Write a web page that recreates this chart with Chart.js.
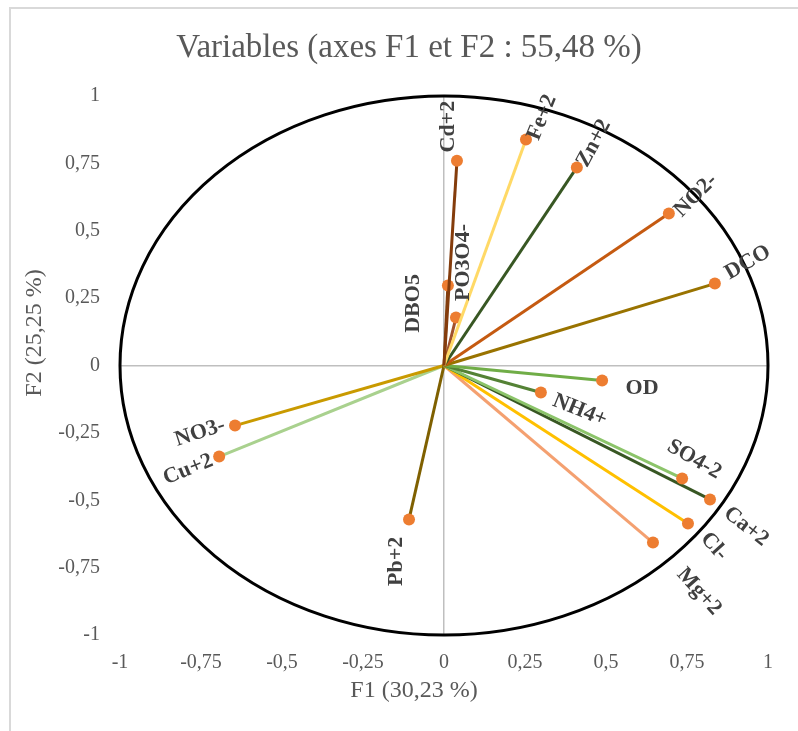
<!DOCTYPE html>
<html>
<head>
<meta charset="utf-8">
<script src="https://cdn.jsdelivr.net/npm/chart.js@4/dist/chart.umd.min.js"></script>
<style>
html,body{margin:0;padding:0;background:#fff;}
#wrap{width:798px;height:731px;position:relative;}
</style>
</head>
<body>
<div id="wrap"><canvas id="c" width="798" height="731"></canvas></div>
<script>
// ---- data ----
const variables = ["Cd+2","Fe+2","Zn+2","NO2-","DCO","DBO5","PO3O4-","OD","NH4+","SO4-2","Ca+2","Cl-","Mg+2","Pb+2","NO3-","Cu+2"];
const f1Values = [0.040, 0.253, 0.410, 0.694, 0.836, 0.012, 0.037, 0.488, 0.299, 0.735, 0.821, 0.753, 0.645, -0.108, -0.645, -0.694];
const f2Values = [0.760, 0.839, 0.735, 0.564, 0.304, 0.297, 0.178, -0.056, -0.100, -0.419, -0.497, -0.586, -0.657, -0.571, -0.223, -0.338];
const tickValues = [-1, -0.75, -0.5, -0.25, 0, 0.25, 0.5, 0.75, 1];

// ---- styles ----
const lineColors = ["#843C0C","#FFD966","#385723","#C55A11","#997300","#7F3F10","#A0522D","#70AD47","#548235","#8CC46A","#385723","#FFC000","#F4A070","#7F6000","#C99A00","#A9D18E"];
// label placement: offset from point (px) and rotation (deg)
const labelPos = {
  "Cd+2":[-9,-34,-90], "Fe+2":[16,-22,-68], "Zn+2":[17,-24,-62], "NO2-":[27,-18,-45],
  "DCO":[33,-21,-30], "DBO5":[-35,18,-90], "PO3O4-":[7,-55,-90], "OD":[40,8,0],
  "NH4+":[39,18,22], "SO4-2":[12,-19,30], "Ca+2":[36,27,38], "Cl-":[26,23,48],
  "Mg+2":[46,49,48], "Pb+2":[-13,42,-90], "NO3-":[-35,7,-18], "Cu+2":[-31,13,-22]
};

const fmt = v => String(v).replace('.', ',');
const serif = '"Liberation Serif", "Times New Roman", serif';

const datasets = variables.map((name, i) => ({
  label: name,
  data: [{x:0, y:0}, {x:f1Values[i], y:f2Values[i]}],
  showLine: true,
  borderColor: lineColors[i],
  borderWidth: 3,
  pointRadius: [0, 6],
  pointHoverRadius: [0, 6],
  pointBackgroundColor: "#ED7D31",
  pointBorderColor: "#ED7D31",
  pointBorderWidth: 0
}));

const decor = {
  id: 'decor',
  beforeDraw(chart) {
    const ctx = chart.ctx;
    ctx.save();
    ctx.fillStyle = '#fff';
    ctx.fillRect(0,0,chart.width,chart.height);
    ctx.strokeStyle = '#D9D9D9';
    ctx.lineWidth = 2;
    ctx.beginPath();
    ctx.moveTo(10, 731); ctx.lineTo(10, 8); ctx.lineTo(798, 8);
    ctx.stroke();
    ctx.restore();
  },
  afterDatasetsDraw(chart) {
    const ctx = chart.ctx;
    const xs = chart.scales.x, ys = chart.scales.y;
    ctx.save();
    // unit circle
    const cx = xs.getPixelForValue(0), cy = ys.getPixelForValue(0);
    const rx = xs.getPixelForValue(1) - cx, ry = cy - ys.getPixelForValue(1);
    ctx.strokeStyle = '#000';
    ctx.lineWidth = 3;
    ctx.beginPath();
    ctx.ellipse(cx, cy, rx, ry, 0, 0, Math.PI*2);
    ctx.stroke();
    // labels
    ctx.fillStyle = '#404040';
    ctx.font = 'bold 22px ' + serif;
    ctx.textAlign = 'center';
    ctx.textBaseline = 'middle';
    variables.forEach((name, i) => {
      const p = labelPos[name];
      const px = xs.getPixelForValue(f1Values[i]) + p[0];
      const py = ys.getPixelForValue(f2Values[i]) + p[1];
      ctx.save();
      ctx.translate(px, py);
      ctx.rotate(p[2]*Math.PI/180);
      ctx.fillText(name, 0, 0);
      ctx.restore();
    });
    // title
    ctx.fillStyle = '#595959';
    ctx.font = '33px ' + serif;
    ctx.fillText('Variables (axes F1 et F2 : 55,48 %)', 409, 48);
    // axis titles
    ctx.font = '24px ' + serif;
    ctx.fillText('F1 (30,23 %)', 414, 691);
    ctx.save();
    ctx.translate(35, 333);
    ctx.rotate(-Math.PI/2);
    ctx.fillText('F2 (25,25 %)', 0, 0);
    ctx.restore();
    ctx.restore();
  }
};

const tickFont = {family: serif, size: 20};

new Chart(document.getElementById('c'), {
  type: 'scatter',
  data: { datasets },
  options: {
    responsive: false,
    animation: false,
    layout: { padding: { left: 0, right: 30, top: 96, bottom: 0 } },
    plugins: { legend: {display:false}, tooltip: {enabled:false}, title:{display:false} },
    scales: {
      x: {
        type: 'linear', min: -1, max: 1,
        afterBuildTicks: s => { s.ticks = tickValues.map(v => ({value:v})); },
        afterFit: s => { s.height = 96; },
        ticks: { callback: fmt, color: '#595959', font: tickFont, padding: 16, maxRotation: 0, autoSkip: false },
        grid: { drawTicks: false, lineWidth: 1.5, color: c => (c.tick && c.tick.value === 0) ? '#BFBFBF' : 'rgba(0,0,0,0)' },
        border: { display: false }
      },
      y: {
        type: 'linear', min: -1, max: 1,
        afterBuildTicks: s => { s.ticks = tickValues.map(v => ({value:v})); },
        afterFit: s => { s.width = 120; },
        ticks: { callback: fmt, color: '#595959', font: tickFont, padding: 20, autoSkip: false },
        grid: { drawTicks: false, lineWidth: 1.5, color: c => (c.tick && c.tick.value === 0) ? '#BFBFBF' : 'rgba(0,0,0,0)' },
        border: { display: false }
      }
    }
  },
  plugins: [decor]
});
</script>
</body>
</html>
